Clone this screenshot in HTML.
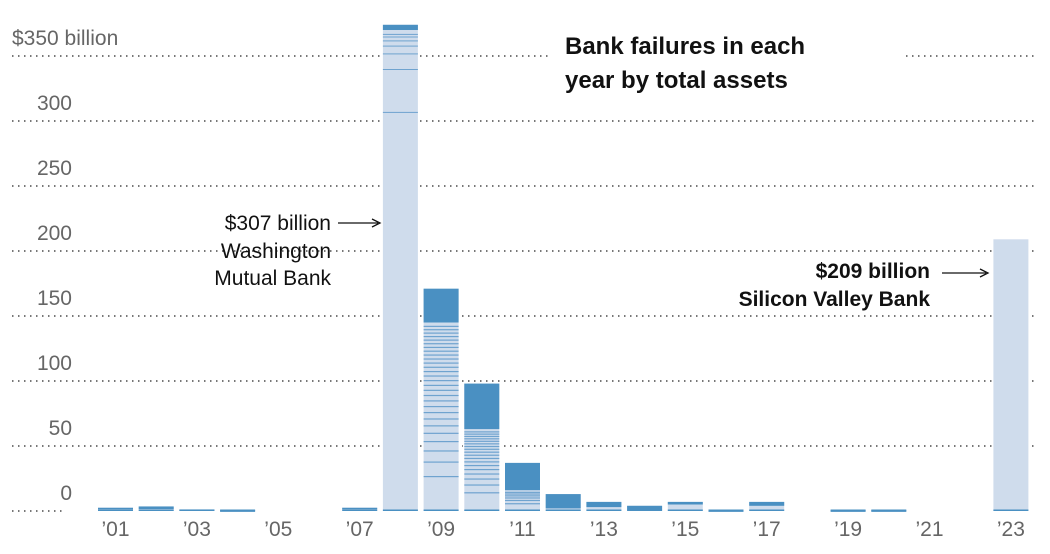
<!DOCTYPE html>
<html><head><meta charset="utf-8"><style>
body{margin:0;background:#fff;width:1050px;height:549px;overflow:hidden;font-family:"Liberation Sans",sans-serif}
svg text{font-family:"Liberation Sans",sans-serif}
</style></head><body>
<svg id="c" width="1050" height="549">
<g id="grid"></g><g id="bars"></g><g id="labels"></g>
<text x="565" y="54" font-size="24" font-weight="bold" fill="#111">Bank failures in each</text>
<text x="565" y="88" font-size="24" font-weight="bold" fill="#111">year by total assets</text>
<g font-size="21" fill="#111">
<text x="331" y="230" text-anchor="end">$307 billion</text>
<text x="331" y="258" text-anchor="end">Washington</text>
<text x="331" y="285" text-anchor="end">Mutual Bank</text>
<line x1="338" y1="223" x2="378" y2="223" stroke="#111" stroke-width="1.3"/>
<path d="M372,219 L380,223 L372,227" fill="none" stroke="#111" stroke-width="1.3"/>
</g>
<g font-size="21" font-weight="bold" fill="#111">
<text x="930" y="278" text-anchor="end">$209 billion</text>
<text x="930" y="306" text-anchor="end">Silicon Valley Bank</text>
<line x1="942" y1="273" x2="986" y2="273" stroke="#111" stroke-width="1.3"/>
<path d="M980,269 L988,273 L980,277" fill="none" stroke="#111" stroke-width="1.3"/>
</g>
</svg>
<script>
const years=[2001,2002,2003,2004,2005,2006,2007,2008,2009,2010,2011,2012,2013,2014,2015,2016,2017,2018,2019,2020,2021,2022,2023];
const totals=[2.5,3.5,1.2,0.5,0,0,2.5,374,171,98,37,13,7,4,7,0.5,7,0,0.5,0.5,0,0,209];
const darkTop=[1,2,1,0.5,0,0,1,4,26,35,21,11,4,3,2,0.5,3,0,0.5,0.5,0,0,0];
const stripeCounts=[0,0,0,0,0,0,0,0,28,18,6,0,0,0,0,0,0,0,0,0,0,0,0];
const wamuStripes=[307,340,352,358,362,365,367];
const yTicks=[0,50,100,150,200,250,300,350];
const xTickYears=[2001,2003,2005,2007,2009,2011,2013,2015,2017,2019,2021,2023];
const NS="http://www.w3.org/2000/svg";
const y=v=>511-v*1.3;
const x=yr=>98+(yr-2001)*40.7;
const bw=35;
function mk(tag,attrs,parent){const e=document.createElementNS(NS,tag);for(const k in attrs)e.setAttribute(k,attrs[k]);parent.appendChild(e);return e;}
const grid=document.getElementById('grid'),bars=document.getElementById('bars'),labels=document.getElementById('labels');
yTicks.forEach(t=>{
  const yy=y(t);
  const x2=t===0?65:1035;
  const l=mk('line',{x1:12,y1:yy,x2:x2,y2:yy,stroke:'#777','stroke-width':2,'stroke-dasharray':'1.5 4.5'},grid);
  
  
  const tx=mk('text',{x:t===350?12:72,y:yy-11,'font-size':21,fill:'#666','text-anchor':t===350?'start':'end'},labels);
  tx.textContent=t===350?'$350 billion':String(t);
  
  
});
mk('rect',{x:548,y:40,width:355,height:60,fill:'#fff'},grid);
years.forEach((yr,i)=>{
  const v=totals[i];if(v<=0)return;
  const g=mk('g',{},bars);
  
  
  mk('rect',{x:x(yr)-1.5,y:y(v)-1.5,width:bw+3,height:v*1.3+1.5,fill:'#fff'},g);
  mk('rect',{x:x(yr),y:y(v),width:bw,height:Math.max(v*1.3,1.5),fill:'#cfdcec'},g);
  const d=Math.min(darkTop[i],v);
  if(d>0)mk('rect',{x:x(yr),y:y(v),width:bw,height:Math.max(d*1.3,1.5),fill:'#4a90c2'},g);
  const n=stripeCounts[i];
  for(let k=1;k<=n;k++){const vv=(v-d)*Math.pow(1-k/(n+1),0.5);mk('rect',{x:x(yr),y:y(vv),width:bw,height:1.2,fill:'#6fa3cf'},g);}
  if(yr===2008)wamuStripes.forEach(s=>mk('rect',{x:x(yr),y:y(s),width:bw,height:1,fill:'#6fa3cf'},g));
  mk('rect',{x:x(yr),y:509.5,width:bw,height:1.5,fill:'#4a90c2'},g);
});
xTickYears.forEach(yr=>{
  const t=mk('text',{x:x(yr)+bw/2,y:536,'font-size':21,fill:'#666','text-anchor':'middle'},labels);
  t.textContent='\u2019'+String(yr).slice(2);
  
  
});
</script>
</body></html>
